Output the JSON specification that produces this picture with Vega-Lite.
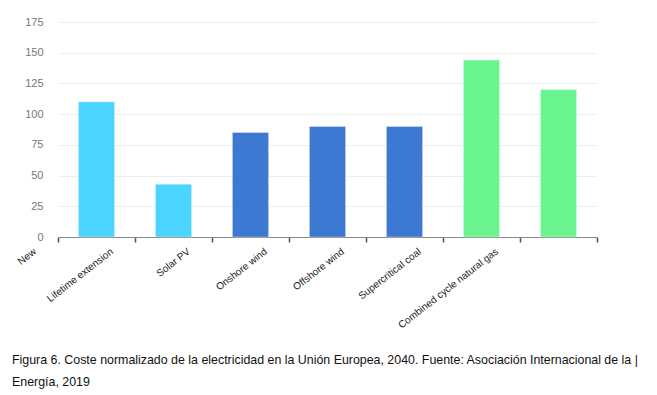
{
  "$schema": "https://vega.github.io/schema/vega-lite/v6.json",
  "autosize": {"type": "none"},
  "padding": {"left": 58, "top": 22, "right": 60, "bottom": 158},
  "width": 539,
  "height": 215,
  "background": "white",
  "data": {
    "values": [
      {"tech": "New", "cost": 110, "group": "Nuclear"},
      {"tech": "Lifetime extension", "cost": 43, "group": "Nuclear"},
      {"tech": "Solar PV", "cost": 85, "group": "Renewables"},
      {"tech": "Onshore wind", "cost": 90, "group": "Renewables"},
      {"tech": "Offshore wind", "cost": 90, "group": "Renewables"},
      {"tech": "Supercritical coal", "cost": 144, "group": "Fossil"},
      {"tech": "Combined cycle natural gas", "cost": 120, "group": "Fossil"}
    ]
  },
  "title": {
    "text": ["Figura 6. Coste normalizado de la electricidad en la Unión Europea, 2040. Fuente: Asociación Internacional de la |", "Energía, 2019"],
    "orient": "bottom",
    "anchor": "start",
    "frame": "group",
    "dx": -46,
    "offset": 24,
    "font": "Liberation Sans",
    "fontSize": 12.4,
    "fontWeight": "normal",
    "color": "#111111",
    "lineHeight": 22
  },
  "mark": {"type": "bar", "width": {"band": 0.47}, "stroke": "#ffffff", "strokeOpacity": 0.35, "strokeWidth": 1},
  "encoding": {
    "x": {
      "field": "tech",
      "type": "nominal",
      "sort": null,
      "scale": {"paddingInner": 0, "paddingOuter": 0},
      "axis": {
        "title": null,
        "tickBand": "extent",
        "labelAngle": -38,
        "labelAlign": "right",
        "labelBaseline": "middle",
        "labelOffset": -62,
        "labelPadding": 8,
        "labelFont": "Liberation Sans",
        "labelFontSize": 10,
        "labelColor": "#222222",
        "domainColor": "#888888",
        "tickColor": "#555555",
        "tickSize": 5,
        "tickWidth": 1.5,
        "grid": false
      }
    },
    "y": {
      "field": "cost",
      "type": "quantitative",
      "scale": {"domain": [0, 175], "nice": false},
      "axis": {
        "title": null,
        "values": [0, 25, 50, 75, 100, 125, 150, 175],
        "ticks": false,
        "domain": false,
        "labelPadding": 15,
        "labelFont": "Liberation Sans",
        "labelFontSize": 11,
        "labelColor": "#777777",
        "gridColor": "#eeeeee",
        "gridWidth": 1
      }
    },
    "color": {
      "field": "group",
      "type": "nominal",
      "scale": {"domain": ["Nuclear", "Renewables", "Fossil"], "range": ["#4ad4ff", "#3d78d3", "#69f48f"]},
      "legend": null
    }
  },
  "config": {"view": {"stroke": null}}
}
